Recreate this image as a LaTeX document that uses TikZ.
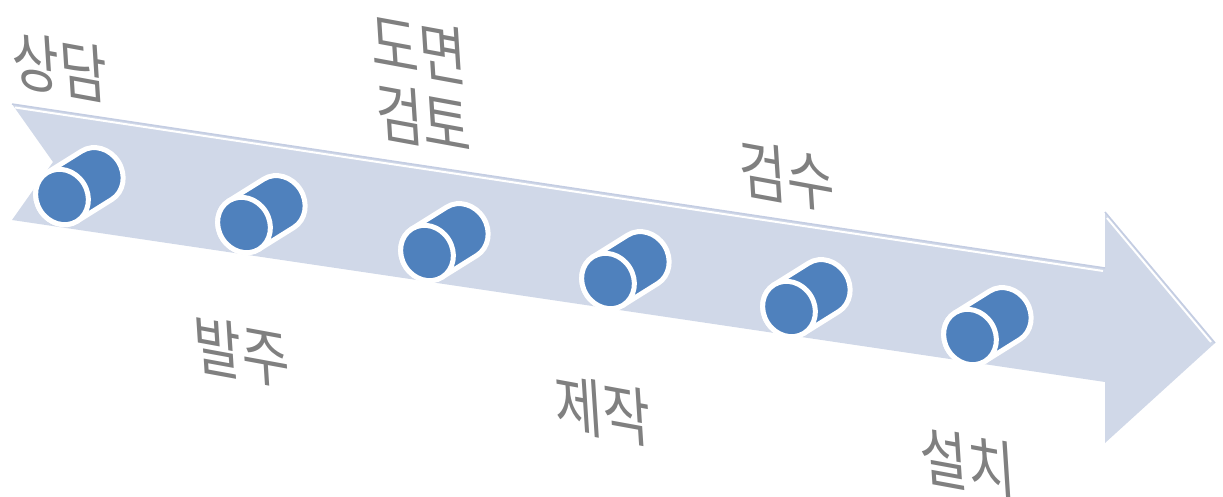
\documentclass[tikz,border=0pt]{standalone}
\usepackage{fontspec}
\setmainfont{Noto Sans CJK KR}
\usepackage{tikz}

\definecolor{arrowfill}{RGB}{208,216,232}
\definecolor{arrowedge}{RGB}{196,205,226}
\definecolor{cylblue}{RGB}{79,129,189}
\definecolor{lblgray}{RGB}{128,128,128}

\tikzset{
  lbl/.style={text=lblgray,font=\fontsize{52}{57}\selectfont,align=center,
    inner sep=0pt,yscale=1.22,yslant=-0.15,xslant=-0.08},
  cylbody/.style={fill=cylblue,draw=white,line width=5pt,line join=round}
}

% one cylinder: front centre at #1
\newcommand{\cylinder}[1]{%
  \begin{scope}[shift={#1},rotate=32]
    \path[cylbody] (0,-28.5) -- (41,-28.5)
      arc[start angle=-90,end angle=90,x radius=25.5,y radius=28.5] -- (0,28.5)
      arc[start angle=90,end angle=270,x radius=25.5,y radius=28.5] -- cycle;
    \path[cylbody] (0,0) ellipse[x radius=25.5,y radius=28.5];
  \end{scope}}

\begin{document}
\begin{tikzpicture}[x=1pt,y=-1pt]
	\useasboundingbox (0,0) rectangle (1223,497);

	% big arrow
	\fill[arrowfill] (12,104) -- (1105,268) -- (1105,212) -- (1215,343) -- (1105,443)
		-- (1105,382) -- (12,220) -- (53,162) -- cycle;
	\draw[arrowedge,line width=1.5pt] (12,104) -- (1105,268);
	\draw[arrowedge,line width=1.5pt] (1105,212) -- (1215,343);
	\draw[white,line width=2pt] (15,107.5) -- (1103,271);
	\draw[white,line width=2pt] (1107,218) -- (1211,342);

	% stops
	\cylinder{(62,197)}
	\cylinder{(244,225)}
	\cylinder{(427,253)}
	\cylinder{(608,281)}
	\cylinder{(789,309)}
	\cylinder{(970,337)}

	% labels
	\node[lbl] (sangdam) at (60,67)   {상담};
	\node[lbl] (domyeon) at (421,84)  {도면\\검토};
	\node[lbl] (geomsu)  at (787,176) {검수};
	\node[lbl] (balju)   at (242,352) {발주};
	\node[lbl] (jejak)   at (603,410) {제작};
	\node[lbl] (seolchi) at (968,463) {설치};
\end{tikzpicture}
\end{document}
